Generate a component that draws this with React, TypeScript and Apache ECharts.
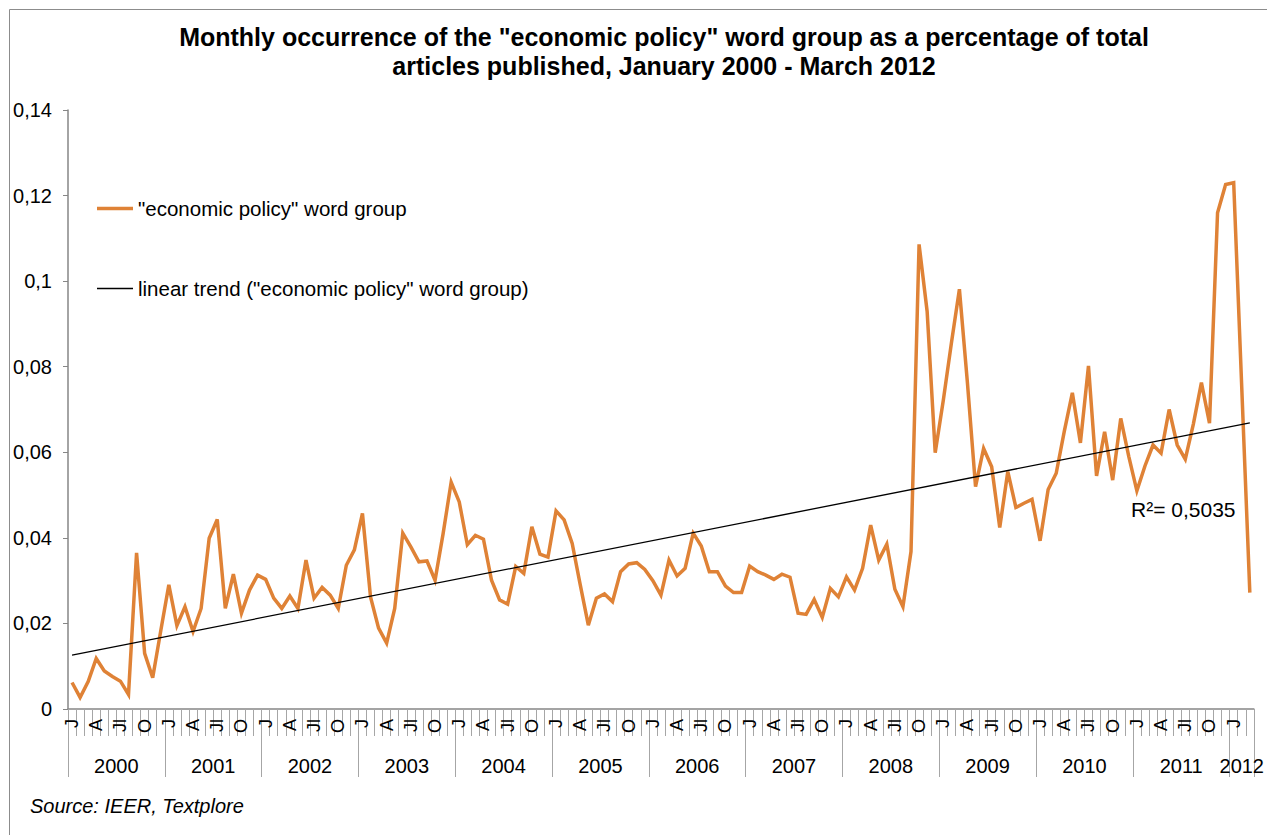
import React, { useEffect, useRef } from "react";
import * as echarts from "echarts";

// Month tick letters (Jan, Apr, Jul, Oct) and year group labels
const monthLetters = ["J", "", "", "A", "", "", "Jl", "", "", "O", "", ""];
const years = ["2000", "2001", "2002", "2003", "2004", "2005", "2006", "2007", "2008", "2009", "2010", "2011", "2012"];

// Share of articles containing the "economic policy" word group, by month
const v2000 = [0.0062, 0.0027, 0.0064, 0.0118, 0.0089, 0.0076, 0.0065, 0.0034, 0.0365, 0.013, 0.0073, 0.0183];
const v2001 = [0.029, 0.0195, 0.0239, 0.0181, 0.0235, 0.0399, 0.0443, 0.0235, 0.0315, 0.0224, 0.0278, 0.0313];
const v2002 = [0.0303, 0.0259, 0.0235, 0.0264, 0.0235, 0.0348, 0.0259, 0.0284, 0.0266, 0.0235, 0.0336, 0.0372];
const v2003 = [0.0457, 0.0262, 0.0189, 0.0154, 0.0235, 0.0411, 0.0379, 0.0344, 0.0346, 0.0301, 0.041, 0.053];
const v2004 = [0.0484, 0.0384, 0.0406, 0.0397, 0.0301, 0.0255, 0.0245, 0.0333, 0.0317, 0.0426, 0.0362, 0.0355];
const v2005 = [0.0463, 0.0442, 0.0387, 0.029, 0.0196, 0.0259, 0.0269, 0.0251, 0.0321, 0.0339, 0.0342, 0.0326];
const v2006 = [0.03, 0.0266, 0.0348, 0.0311, 0.0329, 0.0411, 0.0381, 0.0321, 0.0321, 0.0287, 0.0272, 0.0272];
const v2007 = [0.0334, 0.0321, 0.0313, 0.0303, 0.0315, 0.0308, 0.0224, 0.0221, 0.0256, 0.0214, 0.0282, 0.0262];
const v2008 = [0.0309, 0.0278, 0.0329, 0.043, 0.0348, 0.0385, 0.028, 0.0239, 0.0368, 0.1086, 0.0929, 0.0599];
const v2009 = [0.0721, 0.0854, 0.0981, 0.0761, 0.052, 0.0609, 0.0566, 0.0424, 0.0555, 0.0471, 0.0481, 0.049];
const v2010 = [0.0393, 0.0513, 0.0551, 0.0649, 0.0739, 0.0622, 0.0802, 0.0545, 0.0648, 0.0535, 0.0679, 0.059];
const v2011 = [0.051, 0.0568, 0.0617, 0.0598, 0.07, 0.0617, 0.0584, 0.0666, 0.0763, 0.0668, 0.116, 0.1226];
const v2012 = [0.123, 0.0751, 0.0272];

// Linear trend end points (first and last month) and its fit quality
const trendStart = 0.0126;
const trendEnd = 0.0669;
const rSquared = "0,5035";

const yTicks = { min: 0, max: 0.14, interval: 0.02 };

const FONT = "'Liberation Sans', Arial, sans-serif";
const ORANGE = "#df8236";
const AXIS_GRAY = "#868686";
const TICK_GRAY = "#a6a6a6";

const SERIES_NAME = '"economic policy" word group';
const TREND_NAME = 'linear trend ("economic policy" word group)';

export default function App() {
  const ref = useRef<HTMLDivElement>(null);

  useEffect(() => {
    if (!ref.current) return;
    const chart = echarts.init(ref.current, undefined, { renderer: "svg" });

    const values = [
      ...v2000, ...v2001, ...v2002, ...v2003, ...v2004, ...v2005, ...v2006,
      ...v2007, ...v2008, ...v2009, ...v2010, ...v2011, ...v2012,
    ];
    const n = values.length;
    const months: string[] = values.map((_, i) => `${years[Math.floor(i / 12)]}-${i % 12 + 1}`);
    const trend = values.map((_, i) => (i === 0 ? trendStart : i === n - 1 ? trendEnd : "-"));

    chart.setOption({
      animation: false,
      backgroundColor: "#ffffff",
      textStyle: { fontFamily: FONT, color: "#000" },
      title: {
        text: 'Monthly occurrence of the "economic policy" word group as a percentage of total\narticles published, January 2000 - March 2012',
        left: 659,
        top: 17,
        textAlign: "center",
        textStyle: { fontFamily: FONT, fontSize: 25, fontWeight: "bold", lineHeight: 29, color: "#000" },
      },
      legend: {
        orient: "vertical",
        left: 92,
        top: 193,
        itemWidth: 36,
        itemHeight: 14,
        itemGap: 59,
        symbolKeepAspect: true,
        textStyle: { fontFamily: FONT, fontSize: 20.5, lineHeight: 20, color: "#000" },
        data: [
          { name: SERIES_NAME, icon: "path://M0,0H36V3.5H0Z" },
          { name: TREND_NAME, icon: "path://M0,0H36V1.3H0Z" },
        ],
      },
      grid: { left: 68, right: 13, top: 110, bottom: 126, containLabel: false },
      xAxis: [
        {
          type: "category",
          data: months,
          boundaryGap: true,
          position: "bottom",
          axisLine: { show: true, lineStyle: { color: AXIS_GRAY, width: 1.5 } },
          axisTick: { show: true, interval: 0, length: 27, lineStyle: { color: TICK_GRAY, width: 1 } },
          axisLabel: {
            interval: 0,
            rotate: 90,
            margin: 10,
            fontSize: 18,
            color: "#000",
            fontFamily: FONT,
            formatter: (_: string, i: number) => monthLetters[i % 12],
          },
          splitLine: { show: false },
        },
        {
          type: "category",
          data: months,
          boundaryGap: true,
          position: "bottom",
          offset: 0,
          axisLine: { show: false },
          axisTick: {
            show: true,
            interval: (i: number) => i % 12 === 0,
            length: 68,
            lineStyle: { color: TICK_GRAY, width: 1 },
          },
          axisLabel: {
            interval: 0,
            margin: 47,
            fontSize: 20,
            color: "#000",
            fontFamily: FONT,
            formatter: (_: string, i: number) => {
              const y = years[Math.floor(i / 12)];
              const lastYearMonths = n - 12 * (years.length - 1);
              if (i >= n - lastYearMonths) {
                return i === n - 1 - Math.floor(lastYearMonths / 2) ? `{c|${y}}` : "";
              }
              return i % 12 === 5 ? `{h|${y}}` : "";
            },
            rich: {
              h: { fontSize: 20, fontFamily: FONT, color: "#000", padding: [0, 0, 0, 8] },
              c: { fontSize: 20, fontFamily: FONT, color: "#000" },
            },
          },
          splitLine: { show: false },
        },
      ],
      yAxis: {
        type: "value",
        min: yTicks.min,
        max: yTicks.max,
        interval: yTicks.interval,
        axisLine: { show: true, lineStyle: { color: AXIS_GRAY, width: 1.5 } },
        axisTick: { show: true, length: 5, lineStyle: { color: AXIS_GRAY } },
        splitLine: { show: false },
        axisLabel: {
          margin: 16,
          fontSize: 20,
          color: "#000",
          fontFamily: FONT,
          formatter: (v: number) => (v === 0 ? "0" : String(+v.toFixed(2)).replace(".", ",")),
        },
      },
      series: [
        {
          name: SERIES_NAME,
          type: "line",
          data: values,
          symbol: "none",
          showSymbol: false,
          lineStyle: { color: ORANGE, width: 3.5, join: "miter" },
          itemStyle: { color: ORANGE },
          z: 2,
        },
        {
          name: TREND_NAME,
          type: "line",
          data: trend,
          connectNulls: true,
          symbol: "none",
          showSymbol: false,
          lineStyle: { color: "#000", width: 1.3 },
          itemStyle: { color: "#000" },
          z: 3,
        },
      ],
      graphic: [
        {
          type: "rect",
          silent: true,
          shape: { x: 9.5, y: 9.5, width: 1400, height: 1000 },
          style: { fill: "none", stroke: "#8c8c8c", lineWidth: 1 },
        },
        {
          type: "text",
          left: 1131,
          top: 499,
          style: { text: `R²= ${rSquared}`, fontSize: 21, fontFamily: FONT, fill: "#000" },
        },
        {
          type: "text",
          left: 30,
          top: 796,
          style: { text: "Source: IEER, Textplore", fontSize: 20, fontStyle: "italic", fontFamily: FONT, fill: "#000" },
        },
      ],
    });

    return () => chart.dispose();
  }, []);

  return (
    <div
      ref={ref}
      style={{ position: "fixed", left: 0, top: 0, width: 1267, height: 835, background: "#fff" }}
    />
  );
}
